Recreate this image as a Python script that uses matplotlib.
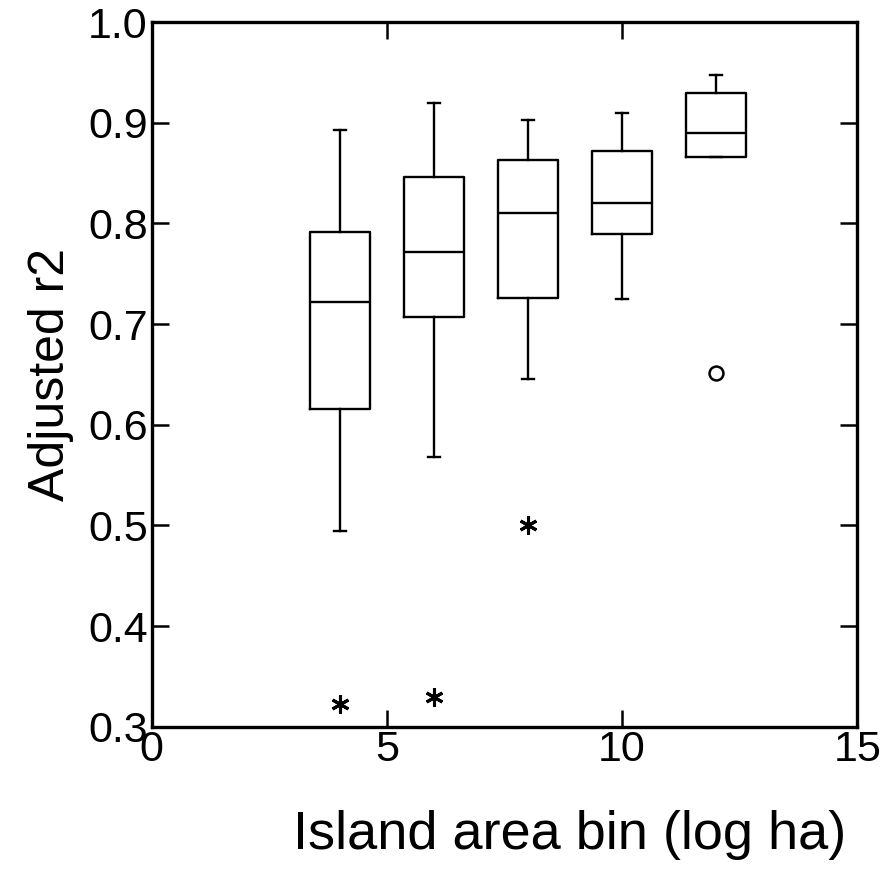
import matplotlib
matplotlib.use("Agg")
import matplotlib.pyplot as plt

plt.rcParams['font.family'] = ['Liberation Sans', 'DejaVu Sans']

# Area bins (log ha) and box summaries of adjusted r2 per bin
bins = [4, 6, 8, 10, 12]
whisker_low = [0.494, 0.568, 0.645, 0.725, 0.866]
q1 = [0.616, 0.707, 0.726, 0.789, 0.866]
median = [0.722, 0.772, 0.810, 0.820, 0.890]
q3 = [0.791, 0.846, 0.863, 0.872, 0.930]
whisker_high = [0.893, 0.920, 0.903, 0.910, 0.947]

# Far outliers (asterisks) and outliers (open circles)
far_x = [4, 6, 8]
far_y = [0.323, 0.330, 0.500]
out_x = [12]
out_y = [0.651]

fig = plt.figure(figsize=(8.93, 8.82), dpi=100)
ax = fig.add_axes([0.170, 0.176, 0.790, 0.799])

stats = []
for i in range(len(bins)):
    stats.append(dict(whislo=whisker_low[i], q1=q1[i], med=median[i],
                      q3=q3[i], whishi=whisker_high[i], fliers=[]))

lw = 1.7
ax.bxp(stats, positions=bins, widths=1.28, capwidths=0.26,
       showfliers=False, manage_ticks=False,
       boxprops=dict(color='black', linewidth=lw),
       medianprops=dict(color='black', linewidth=lw),
       whiskerprops=dict(color='black', linewidth=lw),
       capprops=dict(color='black', linewidth=lw))

ax.plot(far_x, far_y, linestyle='none', marker=(6, 2, 0), markersize=13,
        color='black', markeredgewidth=2.2)
ax.plot(out_x, out_y, linestyle='none', marker='o', markersize=10,
        markerfacecolor='white', markeredgecolor='black', markeredgewidth=1.8)

ax.set_xlim(0, 15)
ax.set_ylim(0.3, 1.0)
ax.set_xticks([0, 5, 10, 15])
ax.set_yticks([0.3, 0.4, 0.5, 0.6, 0.7, 0.8, 0.9, 1.0])
ax.set_yticklabels(['0.3', '0.4', '0.5', '0.6', '0.7', '0.8', '0.9', '1.0'])

ax.tick_params(direction='in', length=12, width=1.8, labelsize=31,
               top=True, right=True, pad=3, colors='black')
ax.tick_params(axis='x', pad=2)
for s in ax.spines.values():
    s.set_linewidth(2.4)
    s.set_color('black')

ax.set_xlabel('Island area bin (log ha)', fontsize=39)
ax.xaxis.set_label_coords(0.592, -0.118)
ax.set_ylabel('Adjusted r2', fontsize=36, labelpad=10)

fig.savefig('out.png', dpi=100)
